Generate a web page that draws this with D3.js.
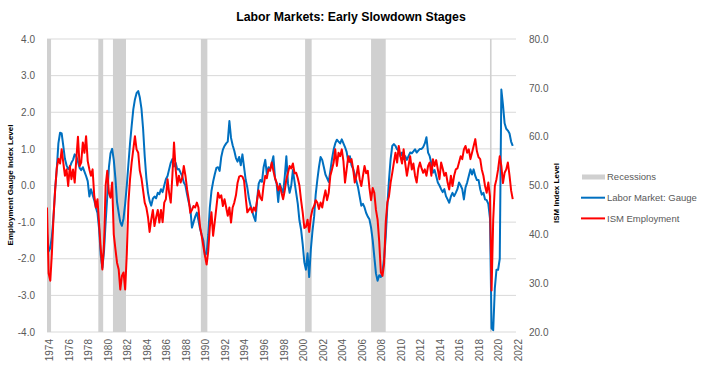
<!DOCTYPE html>
<html>
<head>
<meta charset="utf-8">
<script src="https://cdn.jsdelivr.net/npm/d3@7"></script>
<style>
  body { margin: 0; background: #fff; }
  svg { font-family: "Liberation Sans", Arial, sans-serif; }
</style>
</head>
<body>
<svg id="chart" width="702" height="365"></svg>
<script>
// Readings taken every 2 months, first one Oct 1974
const seriesStart = new Date(1974, 9, 1);
const stepMonths = 2;

// Labor Market: Gauge (left axis)
const gaugeValues = [
  -1.3, -1.8, -1.7, -1.4, -0.85, -0.1, 0.45, 1.15, 1.44, 1.42, 1.08, 0.73,
  0.55, 0.45, 0.5, 0.62, 0.7, 0.85, 0.8, 0.65, 0.48, 0.42, 0.5, 0.38,
  0.26, 0.12, -0.3, -0.1, -0.25, -0.4, -0.6, -0.75, -1.2, -1.9, -2.25, -1.8,
  -1.0, -0.3, 0.5, 0.88, 1.0, 0.7, 0.2, -0.45, -0.75, -1.0, -1.1, -0.9,
  -0.5, 0.0, 0.6, 1.15, 1.63, 2.08, 2.35, 2.52, 2.58, 2.4, 2.1, 1.55,
  0.8, 0.2, -0.2, -0.42, -0.55, -0.36, -0.3, -0.35, -0.2, -0.24, -0.1, -0.18,
  0.0, 0.17, 0.26, 0.44, 0.62, 0.72, 0.52, 0.62, 0.44, 0.45, 0.35, 0.26,
  0.08, 0.0, -0.25, -0.45, -0.62, -1.15, -1.0, -0.85, -0.74, -0.95, -1.18, -1.35,
  -1.5, -1.9, -1.85, -1.35, -0.6, -0.15, 0.1, 0.3, 0.48, 0.5, 0.4, 0.78,
  0.98, 1.08, 1.15, 1.2, 1.76, 1.3, 1.1, 0.95, 0.75, 0.65, 0.78, 0.55,
  0.85, 0.5, 0.15, -0.05, -0.35, -0.55, -0.7, -0.85, -0.97, -0.4, 0.05, 0.15,
  0.1, 0.5, 0.7, 0.3, 0.5, 0.45, 0.6, 0.8, 0.2, 0.05, -0.45, 0.05,
  -0.1, -0.2, 0.25, 0.8, 0.05, -0.2, 0.0, 0.42, 0.1, -0.2, -0.5, -0.95,
  -1.2, -1.6, -2.1, -2.3, -1.85, -2.5, -1.75, -1.25, -0.85, -0.25, 0.15, 0.5,
  0.78, 0.7, 0.5, 0.3, 0.2, 0.1, 0.4, 0.72, 0.98, 1.15, 1.25, 1.2,
  1.15, 1.26, 1.15, 1.05, 0.92, 0.65, 0.8, 0.55, 0.45, 0.3, 0.12, -0.05,
  -0.3, -0.55, -0.5, -0.6, -0.75, -0.85, -0.92, -1.15, -1.5, -1.95, -2.4, -2.6,
  -2.45, -2.5, -2.35, -2.0, -1.4, -0.55, 0.15, 0.72, 1.08, 1.13, 1.08, 0.99,
  0.95, 0.8, 0.9, 0.72, 0.8, 0.7, 0.8, 0.9, 0.88, 0.93, 0.99, 0.9,
  0.95, 1.0, 1.0, 1.05, 1.15, 1.32, 0.9, 0.8, 0.6, 0.35, 0.42, 0.26,
  0.08, 0.0, -0.1, -0.18, -0.1, -0.29, -0.38, -0.47, -0.3, -0.2, -0.29, -0.2,
  -0.1, 0.08, 0.0, -0.1, -0.38, -0.05, 0.08, 0.26, 0.44, 0.3, 0.44, 0.26,
  0.15, 0.15, -0.1, -0.25, -0.2, -0.38, -0.4, -0.5, -0.9, -3.9, -3.95, -2.8,
  -2.3, -2.3, -2.0, 2.62, 2.2, 1.7, 1.55, 1.5, 1.42, 1.2, 1.08
];

// ISM Employment (right axis)
const ismValues = [
  45.5, 32, 30.5, 36, 43.5, 49, 53.5, 55.5, 54.5, 57.4, 54.7, 52,
  53.3, 49.9, 54, 51.3, 53.3, 50.6, 55.4, 60, 54, 54.7, 58.8, 56.7,
  60.1, 55, 53.3, 52, 53.3, 48, 45.5, 47.2, 42, 37, 32.8, 38,
  50, 53, 48.5, 47.5, 50.6, 40, 37, 34.2, 32.8, 28.7, 31.5, 32.2,
  28.7, 36, 46.6, 51.3, 54.7, 57.4, 60.1, 57.4, 56.7, 53, 51.5, 49,
  46.5, 45.5, 43.5, 40.5, 43, 45, 41.7, 43.5, 45, 42.4, 45, 42.5,
  46.5, 47.2, 51.3, 48.5, 46.5, 52, 58.8, 53.3, 50, 52, 50.6, 51.5,
  54, 52, 49.2, 47.2, 44.4, 45, 45.8, 45.5, 46.5, 45.5, 41.5, 39.7,
  37.6, 35.6, 33.8, 36.5, 41.5, 44.5, 39.7, 42.5, 45.5, 48.5, 47.5, 48,
  45.8, 47.2, 45.5, 43.8, 45.5, 42.4, 45.5, 46.5, 48, 50.5, 51.8, 52,
  51.8, 51, 47.5, 44.5, 45, 45.5, 44.5, 45.5, 44.8, 47, 49, 47.5,
  47, 50, 52, 51.5, 53.3, 53, 54.7, 53, 51.5, 50.6, 49, 50,
  48.5, 47.2, 49, 51.3, 52.6, 54, 53.5, 54.5, 52.5, 52.6, 51.5, 50,
  47, 44.5, 41.3, 41.5, 43, 40.5, 43.5, 45.1, 45.8, 47, 46.5, 45.2,
  46.5, 45.5, 47.5, 49, 47, 48.5, 52, 53.3, 54.7, 57.4, 54, 56.7,
  56, 57.4, 55, 50.6, 53.3, 56, 54.8, 55.4, 53.3, 50.6, 52, 54,
  51.3, 49.9, 52, 54, 52.5, 53, 49.5, 47, 49.5, 48.5, 45, 43,
  38.5, 32.2, 31.5, 34, 42.4, 46.5, 47.8, 50.6, 52.6, 54.7, 56.7, 54.7,
  58.1, 56, 54.5, 57.4, 54.5, 52, 54, 56, 53.3, 54.5, 52, 50.6,
  53.5, 54.7, 53.5, 52.6, 53.3, 52, 54, 54.7, 52, 55.4, 54, 55.2,
  53.3, 51.3, 54.7, 53.5, 52, 52.6, 50.6, 49.2, 52, 49.9, 52, 53.3,
  53.5, 54.7, 56, 55.4, 57.4, 58.1, 56.7, 57.4, 55.4, 56.7, 58.1, 59.5,
  57, 55.8, 55.4, 53.3, 52, 49.9, 48.5, 50.6, 47.8, 28.5, 43, 49.9,
  51.3, 53.3, 56, 54, 50.5, 52.6, 53.3, 54.7, 52, 49, 47.2
];

// NBER recessions, peak month to trough month
const recessions = [
  ["1973-11", "1975-03"],
  ["1980-01", "1980-07"],
  ["1981-07", "1982-11"],
  ["1990-07", "1991-03"],
  ["2001-03", "2001-11"],
  ["2007-12", "2009-06"],
  ["2020-02", "2020-04"]
];

const gaugeTicks = [-4, -3, -2, -1, 0, 1, 2, 3, 4];
const ismTicks = [20, 30, 40, 50, 60, 70, 80];
const tickYears = [1974, 1976, 1978, 1980, 1982, 1984, 1986, 1988, 1990, 1992, 1994, 1996,
  1998, 2000, 2002, 2004, 2006, 2008, 2010, 2012, 2014, 2016, 2018, 2020, 2022];

const legendItems = [
  { label: "Recessions", type: "rect", color: "#d0d0d0" },
  { label: "Labor Market: Gauge", type: "line", color: "#0070c0" },
  { label: "ISM Employment", type: "line", color: "#ff0000" }
];

const parseMonth = d3.timeParse("%Y-%m");
const dates = gaugeValues.map((d, i) => d3.timeMonth.offset(seriesStart, i * stepMonths));

const plot = { left: 47, right: 516, top: 39, bottom: 332 };
const svg = d3.select("#chart");

// axis starts at the first reading, ticks every 24 months from there
const x = d3.scaleTime()
  .domain([seriesStart, d3.timeMonth.offset(seriesStart, 48 * 12)])
  .range([plot.left, plot.right]);
const yLeft = d3.scaleLinear().domain([-4, 4]).range([plot.bottom, plot.top]);
const yRight = d3.scaleLinear().domain([20, 80]).range([plot.bottom, plot.top]);

// Title
svg.append("text")
  .attr("x", 351)
  .attr("y", 21)
  .attr("text-anchor", "middle")
  .attr("font-size", "12.3px")
  .attr("font-weight", "bold")
  .attr("fill", "#000")
  .text("Labor Markets: Early Slowdown Stages");

// Gridlines
svg.append("g")
  .selectAll("line")
  .data(gaugeTicks)
  .join("line")
  .attr("x1", plot.left)
  .attr("x2", plot.right)
  .attr("y1", (d) => yLeft(d))
  .attr("y2", (d) => yLeft(d))
  .attr("stroke", "#d9d9d9")
  .attr("stroke-width", 1);

// Recession shading
svg.append("g")
  .selectAll("rect")
  .data(recessions)
  .join("rect")
  .attr("x", (d) => x(d3.max([parseMonth(d[0]), seriesStart])))
  .attr("width", (d) => x(parseMonth(d[1])) - x(d3.max([parseMonth(d[0]), seriesStart])))
  .attr("y", plot.top)
  .attr("height", plot.bottom - plot.top)
  .attr("fill", legendItems[0].color);

svg.append("defs")
  .append("clipPath")
  .attr("id", "plot-clip")
  .append("rect")
  .attr("x", plot.left)
  .attr("y", plot.top - 1)
  .attr("width", plot.right - plot.left)
  .attr("height", plot.bottom - plot.top + 2);

const gaugeLine = d3.line()
  .x((d, i) => x(dates[i]))
  .y((d) => yLeft(d));
const ismLine = d3.line()
  .x((d, i) => x(dates[i]))
  .y((d) => yRight(d));

const lines = svg.append("g").attr("clip-path", "url(#plot-clip)");
lines.append("path")
  .datum(gaugeValues)
  .attr("d", gaugeLine)
  .attr("fill", "none")
  .attr("stroke", legendItems[1].color)
  .attr("stroke-width", 2)
  .attr("stroke-linejoin", "round");
lines.append("path")
  .datum(ismValues)
  .attr("d", ismLine)
  .attr("fill", "none")
  .attr("stroke", legendItems[2].color)
  .attr("stroke-width", 2)
  .attr("stroke-linejoin", "round");

// Axes
const styleAxis = (g) => {
  g.select(".domain").remove();
  g.selectAll(".tick line").remove();
  g.selectAll("text")
    .attr("fill", "#595959")
    .attr("font-size", "10px")
    .attr("font-family", "Liberation Sans, Arial, sans-serif");
};

svg.append("g")
  .attr("transform", `translate(${plot.left - 9},0)`)
  .call(d3.axisLeft(yLeft).tickValues(gaugeTicks).tickFormat((d) => d.toFixed(1)).tickSize(0))
  .call(styleAxis);

svg.append("g")
  .attr("transform", `translate(${plot.right + 10},0)`)
  .call(d3.axisRight(yRight).tickValues(ismTicks).tickFormat((d) => d.toFixed(1)).tickSize(0))
  .call(styleAxis);

const xTickDates = tickYears.map((yr) => new Date(yr, seriesStart.getMonth(), 1));
const xAxis = svg.append("g")
  .attr("transform", `translate(0,${plot.bottom})`)
  .call(d3.axisBottom(x).tickValues(xTickDates).tickFormat(d3.timeFormat("%Y")).tickSize(0))
  .call(styleAxis);
xAxis.selectAll("text")
  .attr("transform", "rotate(-90)")
  .attr("text-anchor", "end")
  .attr("x", -7)
  .attr("y", 2)
  .attr("dy", "0.35em");

// Axis titles
svg.append("text")
  .attr("transform", "translate(13,185) rotate(-90)")
  .attr("text-anchor", "middle")
  .attr("font-size", "8px")
  .attr("font-weight", "bold")
  .attr("fill", "#000")
  .text("Employment Gauge Index Level");

svg.append("text")
  .attr("transform", "translate(559,193) rotate(-90)")
  .attr("text-anchor", "middle")
  .attr("font-size", "8px")
  .attr("font-weight", "bold")
  .attr("fill", "#000")
  .text("ISM Index Level");

// Legend
const legend = svg.append("g").attr("transform", "translate(581,177)");
const item = legend.selectAll("g")
  .data(legendItems)
  .join("g")
  .attr("transform", (d, i) => `translate(0,${i * 20.7})`);
item.filter((d) => d.type === "rect")
  .append("rect")
  .attr("x", 1)
  .attr("y", -2.5)
  .attr("width", 23)
  .attr("height", 5)
  .attr("fill", (d) => d.color);
item.filter((d) => d.type === "line")
  .append("line")
  .attr("x1", 0)
  .attr("x2", 24)
  .attr("stroke", (d) => d.color)
  .attr("stroke-width", 2);
item.append("text")
  .attr("x", 26)
  .attr("dy", "0.35em")
  .attr("font-size", "9.5px")
  .attr("fill", "#595959")
  .text((d) => d.label);
</script>
</body>
</html>
